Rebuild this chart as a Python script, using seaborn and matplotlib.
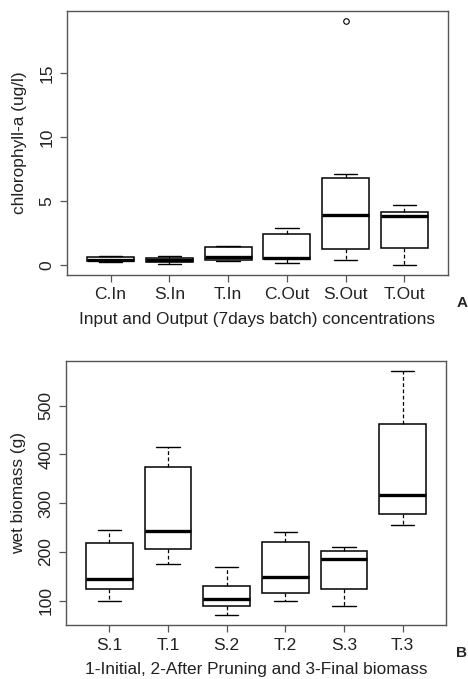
import numpy as np
import pandas as pd
import matplotlib
matplotlib.use("Agg")
import matplotlib.pyplot as plt
import seaborn as sns

# Panel A: chlorophyll-a (ug/l), values per group (min, q1, median, q3, max[, outlier])
groups_a = ["C.In", "S.In", "T.In", "C.Out", "S.Out", "T.Out"]
c_in = [0.22, 0.28, 0.40, 0.65, 0.72]
s_in = [0.05, 0.20, 0.38, 0.55, 0.73]
t_in = [0.30, 0.38, 0.63, 1.38, 1.50]
c_out = [0.18, 0.50, 0.57, 2.43, 2.90]
s_out = [0.42, 0.80, 1.25, 2.50, 3.94, 5.50, 6.81, 7.15, 19.10]
t_out = [0.00, 1.33, 3.81, 4.12, 4.67]

# Panel B: wet biomass (g)
groups_b = ["S.1", "T.1", "S.2", "T.2", "S.3", "T.3"]
s1 = [100, 123, 145, 218, 245]
t1 = [175, 205, 243, 374, 415]
s2 = [70, 90, 104, 130, 170]
t2 = [100, 116, 148, 221, 240]
s3 = [90, 123, 185, 201, 210]
t3 = [256, 278, 316, 462, 571]

yticks_a = [0, 5, 10, 15]
yticks_b = [100, 200, 300, 400, 500]

df_a = pd.DataFrame({
    "group": sum([[g] * len(v) for g, v in zip(groups_a, [c_in, s_in, t_in, c_out, s_out, t_out])], []),
    "value": c_in + s_in + t_in + c_out + s_out + t_out,
})
df_b = pd.DataFrame({
    "group": sum([[g] * len(v) for g, v in zip(groups_b, [s1, t1, s2, t2, s3, t3])], []),
    "value": s1 + t1 + s2 + t2 + s3 + t3,
})

sns.set_theme(style="ticks")
plt.rcParams["font.family"] = ["Liberation Sans", "DejaVu Sans"]

fig = plt.figure(figsize=(4.68, 6.79), dpi=100)
ax1 = fig.add_axes([0.1432, 0.595, 0.957 - 0.1432, 0.9838 - 0.595])
ax2 = fig.add_axes([0.141, 0.0795, 0.953 - 0.141, 0.468 - 0.0795])

frame_col = "#555555"
box_kw = dict(
    color="white", linecolor="black", linewidth=1.1, width=0.8,
    whiskerprops=dict(linestyle=(0, (3, 2)), linewidth=0.9),
    capprops=dict(linestyle="-", linewidth=1.0),
    medianprops=dict(linewidth=2.4, color="black"),
    flierprops=dict(marker="o", markerfacecolor="none", markeredgecolor="black",
                    markersize=4, markeredgewidth=0.8),
)

sns.boxplot(data=df_a, x="group", y="value", order=groups_a, ax=ax1, **box_kw)
sns.boxplot(data=df_b, x="group", y="value", order=groups_b, ax=ax2, **box_kw)

for ax, yt, ylim, xl, yl in [
    (ax1, yticks_a, (-0.78, 19.87), "Input and Output (7days batch) concentrations", "chlorophyll-a (ug/l)"),
    (ax2, yticks_b, (50, 591), "1-Initial, 2-After Pruning and 3-Final biomass", "wet biomass (g)"),
]:
    ax.set_xlim(-0.74, 5.74)
    ax.set_ylim(*ylim)
    ax.set_yticks(yt)
    ax.set_yticklabels([str(v) for v in yt], rotation=90, va="center")
    ax.set_xlabel(xl, fontsize=12.4, color="#222222", labelpad=7)
    ax.set_ylabel(yl, fontsize=12.4, color="#222222", labelpad=9)
    ax.tick_params(axis="both", labelsize=12.5, length=5, width=0.9, color=frame_col,
                   labelcolor="#222222", pad=4)
    for s in ax.spines.values():
        s.set_visible(True)
        s.set_color(frame_col)
        s.set_linewidth(1.0)

fig.text(461.7 / 468, 1 - 303 / 679, "A", fontsize=11, fontweight="bold", ha="center", va="center")
fig.text(461.7 / 468, 1 - 653 / 679, "B", fontsize=11, fontweight="bold", ha="center", va="center")

fig.savefig("out.png", dpi=100, facecolor="white")
